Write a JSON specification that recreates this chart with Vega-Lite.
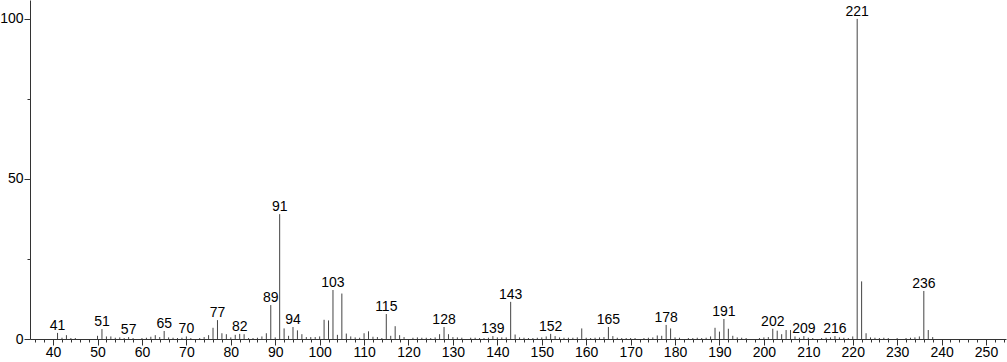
{
  "$schema": "https://vega.github.io/schema/vega-lite/v6.json",
  "width": 976,
  "height": 339,
  "autosize": "none",
  "padding": {"left": 30, "top": 0, "right": 1, "bottom": 23},
  "background": "white",
  "config": {"view": {"stroke": null}, "font": "Liberation Sans"},
  "data": {"values": [
    {"mz":41,"i":1.9,"label":"41"},{"mz":42,"i":0.4},{"mz":43,"i":1.2},{"mz":44,"i":0.3},{"mz":45,"i":0.3},
    {"mz":50,"i":1.0},{"mz":51,"i":3.1,"label":"51"},{"mz":52,"i":0.8},{"mz":53,"i":0.8},{"mz":54,"i":0.4},{"mz":55,"i":0.5},{"mz":56,"i":0.3},{"mz":57,"i":0.6,"label":"57"},{"mz":58,"i":0.3},
    {"mz":60,"i":0.3},{"mz":61,"i":0.4},{"mz":62,"i":0.7},{"mz":63,"i":1.2},{"mz":64,"i":0.6},{"mz":65,"i":2.5,"label":"65"},{"mz":66,"i":0.5},{"mz":67,"i":0.4},{"mz":68,"i":0.3},{"mz":69,"i":0.4},
    {"mz":70,"i":0.8,"label":"70"},{"mz":71,"i":0.3},{"mz":73,"i":0.3},{"mz":74,"i":0.6},{"mz":75,"i":1.2},{"mz":76,"i":3.5},{"mz":77,"i":5.9,"label":"77"},{"mz":78,"i":1.8},{"mz":79,"i":1.5},
    {"mz":80,"i":0.5},{"mz":81,"i":1.3},{"mz":82,"i":1.6,"label":"82"},{"mz":83,"i":1.5},{"mz":84,"i":0.3},{"mz":85,"i":0.3},{"mz":86,"i":0.4},{"mz":87,"i":0.8},{"mz":88,"i":1.8},{"mz":89,"i":10.6,"label":"89"},
    {"mz":90,"i":0.5},{"mz":91,"i":39.0,"label":"91"},{"mz":92,"i":3.3},{"mz":93,"i":1.0},{"mz":94,"i":3.75,"label":"94"},{"mz":95,"i":2.7},{"mz":96,"i":1.5},{"mz":97,"i":0.6},{"mz":98,"i":0.6},{"mz":99,"i":0.6},
    {"mz":100,"i":0.8},{"mz":101,"i":6.0},{"mz":102,"i":5.8},{"mz":103,"i":15.3,"label":"103"},{"mz":104,"i":1.3},{"mz":105,"i":14.2},{"mz":106,"i":1.7},{"mz":107,"i":0.8},{"mz":108,"i":0.5},{"mz":109,"i":0.4},
    {"mz":110,"i":1.8},{"mz":111,"i":2.4},{"mz":112,"i":0.7},{"mz":113,"i":0.6},{"mz":114,"i":0.3},{"mz":115,"i":7.8,"label":"115"},{"mz":116,"i":1.0},{"mz":117,"i":4.0},{"mz":118,"i":1.2},{"mz":119,"i":0.6},
    {"mz":121,"i":0.4},{"mz":122,"i":0.5},{"mz":123,"i":0.4},{"mz":124,"i":0.4},{"mz":125,"i":0.3},{"mz":126,"i":0.5},{"mz":127,"i":1.5},{"mz":128,"i":3.75,"label":"128"},{"mz":129,"i":1.5},
    {"mz":130,"i":0.6},{"mz":131,"i":0.5},{"mz":132,"i":0.4},{"mz":134,"i":0.4},{"mz":135,"i":0.4},{"mz":136,"i":0.3},{"mz":137,"i":0.3},{"mz":138,"i":0.4},{"mz":139,"i":0.9,"label":"139"},
    {"mz":140,"i":0.5},{"mz":141,"i":0.5},{"mz":142,"i":0.5},{"mz":143,"i":11.6,"label":"143"},{"mz":144,"i":1.4},{"mz":145,"i":0.5},{"mz":146,"i":0.4},{"mz":147,"i":0.3},{"mz":148,"i":0.3},{"mz":149,"i":0.4},
    {"mz":150,"i":0.5},{"mz":151,"i":0.8},{"mz":152,"i":1.6,"label":"152"},{"mz":153,"i":0.9},{"mz":154,"i":0.5},{"mz":155,"i":0.4},{"mz":156,"i":0.4},{"mz":157,"i":0.4},{"mz":158,"i":0.5},{"mz":159,"i":3.3},
    {"mz":160,"i":0.4},{"mz":161,"i":0.3},{"mz":162,"i":0.4},{"mz":163,"i":0.5},{"mz":164,"i":0.6},{"mz":165,"i":3.75,"label":"165"},{"mz":166,"i":0.9},{"mz":167,"i":0.4},{"mz":168,"i":0.3},{"mz":169,"i":0.3},
    {"mz":170,"i":0.3},{"mz":171,"i":0.3},{"mz":173,"i":0.3},{"mz":174,"i":0.4},{"mz":175,"i":0.5},{"mz":176,"i":1.1},{"mz":177,"i":1.0},{"mz":178,"i":4.4,"label":"178"},{"mz":179,"i":3.3},
    {"mz":180,"i":0.5},{"mz":181,"i":0.4},{"mz":183,"i":0.3},{"mz":184,"i":0.3},{"mz":185,"i":0.4},{"mz":186,"i":0.3},{"mz":187,"i":0.4},{"mz":188,"i":0.8},{"mz":189,"i":3.5},
    {"mz":190,"i":2.3},{"mz":191,"i":6.25,"label":"191"},{"mz":192,"i":3.2},{"mz":193,"i":1.0},{"mz":194,"i":0.5},{"mz":195,"i":0.4},{"mz":196,"i":0.3},{"mz":199,"i":0.3},
    {"mz":200,"i":0.5},{"mz":201,"i":0.6},{"mz":202,"i":3.2,"label":"202"},{"mz":203,"i":2.6},{"mz":204,"i":1.5},{"mz":205,"i":2.8},{"mz":206,"i":2.8},{"mz":207,"i":0.8},{"mz":208,"i":0.4},{"mz":209,"i":0.9,"label":"209"},
    {"mz":210,"i":0.4},{"mz":211,"i":0.3},{"mz":213,"i":0.3},{"mz":214,"i":0.4},{"mz":215,"i":0.5},{"mz":216,"i":0.9,"label":"216"},{"mz":217,"i":0.5},{"mz":218,"i":0.4},{"mz":219,"i":0.3},
    {"mz":220,"i":0.8},{"mz":221,"i":100,"label":"221"},{"mz":222,"i":18.0},{"mz":223,"i":1.8},{"mz":224,"i":0.5},{"mz":225,"i":0.4},{"mz":226,"i":0.3},{"mz":227,"i":0.4},{"mz":228,"i":0.3},
    {"mz":230,"i":0.3},{"mz":232,"i":0.3},{"mz":233,"i":0.4},{"mz":234,"i":0.5},{"mz":235,"i":0.8},{"mz":236,"i":15.0,"label":"236"},{"mz":237,"i":2.8},{"mz":238,"i":0.6}
  ]},
  "encoding": {
    "x": {"field": "mz", "type": "quantitative",
      "scale": {"domain": [34.8, 254.5], "nice": false, "zero": false},
      "axis": {"title": null, "grid": false,
        "values": [36,38,40,42,44,46,48,50,52,54,56,58,60,62,64,66,68,70,72,74,76,78,80,82,84,86,88,90,92,94,96,98,100,102,104,106,108,110,112,114,116,118,120,122,124,126,128,130,132,134,136,138,140,142,144,146,148,150,152,154,156,158,160,162,164,166,168,170,172,174,176,178,180,182,184,186,188,190,192,194,196,198,200,202,204,206,208,210,212,214,216,218,220,222,224,226,228,230,232,234,236,238,240,242,244,246,248,250,252,254],
        "labelExpr": "datum.value % 10 === 0 ? datum.label : ''",
        "tickSize": {"condition": {"test": "datum.value % 10 === 0", "value": 6}, "value": 3},
        "domainColor": "#333", "tickColor": "#333", "labelColor": "#000",
        "labelFontSize": 14, "labelFont": "Liberation Sans", "labelPadding": 0, "labelFlush": false, "labelOverlap": false}},
    "y": {"field": "i", "type": "quantitative",
      "scale": {"domain": [0, 105.9], "nice": false},
      "axis": {"title": null, "grid": false,
        "values": [0, 25, 50, 75, 100],
        "labelExpr": "datum.value % 50 === 0 ? datum.label : ''",
        "tickSize": {"condition": {"test": "datum.value % 50 === 0", "value": 6}, "value": 3},
        "domainColor": "#333", "tickColor": "#333", "labelColor": "#000",
        "labelFontSize": 14, "labelFont": "Liberation Sans", "labelPadding": 1, "labelFlush": false, "labelOverlap": false}}
  },
  "layer": [
    {"mark": {"type": "rule", "color": "#444", "strokeWidth": 1},
     "encoding": {"y2": {"datum": 0}}},
    {"transform": [{"filter": "datum.label"}],
     "mark": {"type": "text", "baseline": "alphabetic", "align": "center", "dy": -3, "fontSize": 14, "font": "Liberation Sans", "color": "#000"},
     "encoding": {"text": {"field": "label"}}}
  ]
}
